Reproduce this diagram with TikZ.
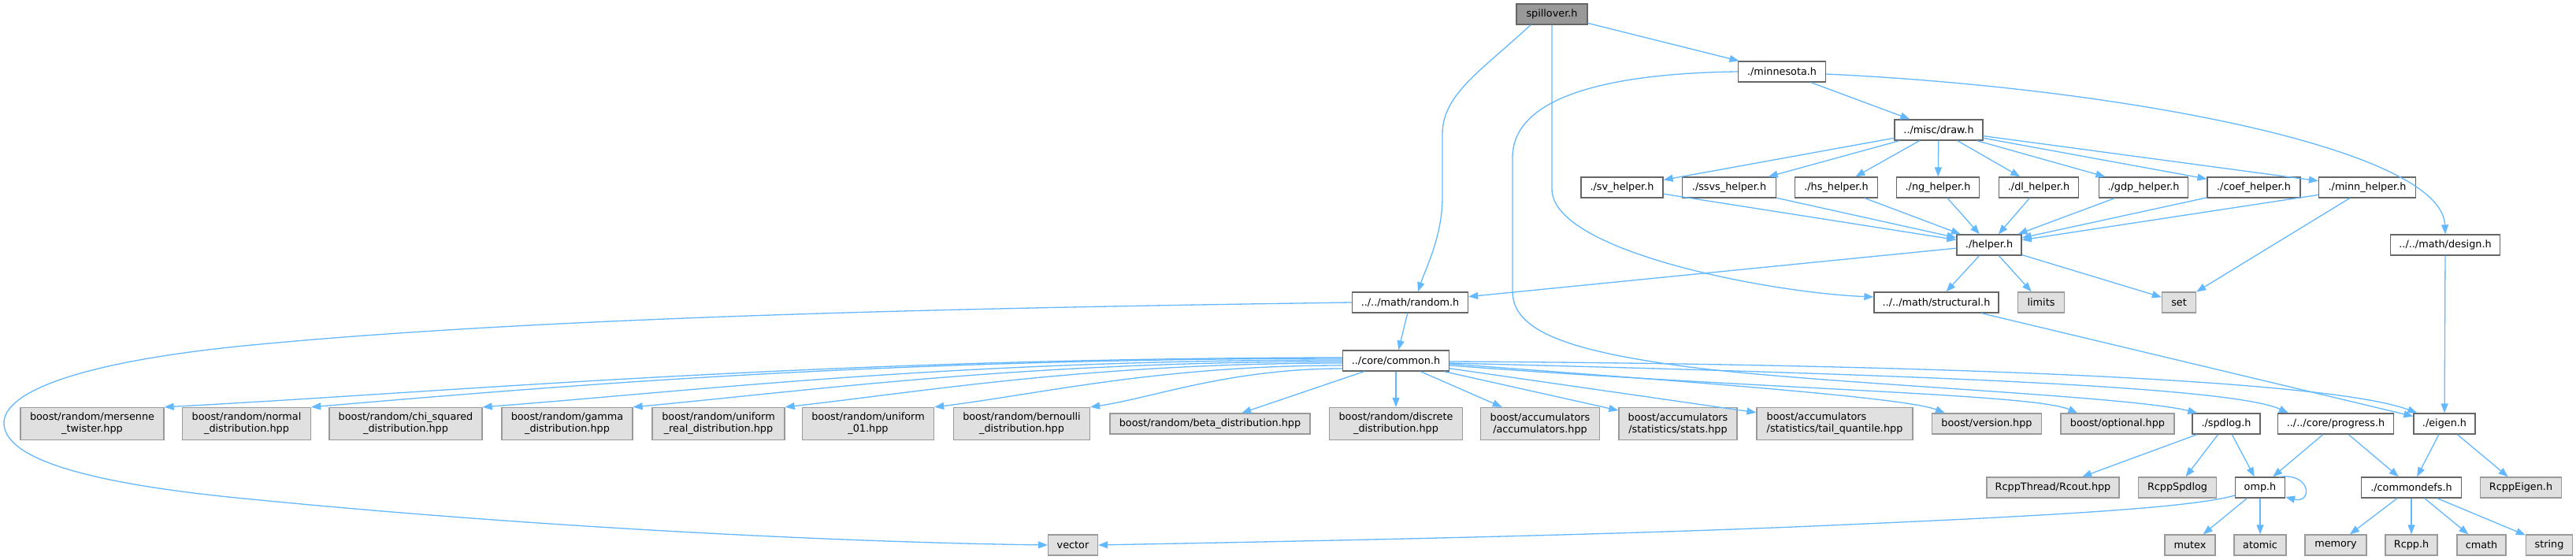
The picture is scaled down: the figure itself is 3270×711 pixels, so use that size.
\documentclass[tikz,border=0pt]{standalone}
\usepackage{fontspec}
\setmainfont{DejaVu Sans}
\usetikzlibrary{arrows.meta}
\definecolor{edgec}{HTML}{63B8FF}
\definecolor{rootfill}{HTML}{999999}
\definecolor{darkb}{HTML}{666666}
\definecolor{lightb}{HTML}{999999}
\definecolor{extfill}{HTML}{E0E0E0}
\begin{document}
\begin{tikzpicture}[x=1pt,y=-1pt,
  base/.style={draw, line width=1.3pt, inner sep=0pt, font=\fontsize{12.8}{15}\selectfont, minimum height=26pt, text=black},
  rootn/.style={base, fill=rootfill, draw=darkb},
  doc/.style={base, fill=white, draw=darkb},
  ext/.style={base, fill=extfill, draw=lightb},
  two/.style={minimum height=41pt, align=center},
  edge/.style={draw=edgec, line width=1.3pt, -{Triangle[length=12pt,width=9pt]}}]
\fill[white] (0,0) rectangle (3270,711);
\useasboundingbox (0,0) rectangle (3270,711);

% nodes
\node[rootn, minimum width=90pt] (nspill) at (1970,18) {spillover.h};
\node[doc, minimum width=111pt] (nminn) at (2262,91) {./minnesota.h};
\node[doc, minimum width=112pt] (ndraw) at (2461,165) {../misc/draw.h};
\node[doc, minimum width=104pt] (nsv) at (2059,238) {./sv\_helper.h};
\node[doc, minimum width=119pt] (nssvs) at (2195,238) {./ssvs\_helper.h};
\node[doc, minimum width=105pt] (nhs) at (2331,238) {./hs\_helper.h};
\node[doc, minimum width=105pt] (nng) at (2460,238) {./ng\_helper.h};
\node[doc, minimum width=101pt] (ndl) at (2588,238) {./dl\_helper.h};
\node[doc, minimum width=113pt] (ngdp) at (2721,238) {./gdp\_helper.h};
\node[doc, minimum width=118pt] (ncoef) at (2861,238) {./coef\_helper.h};
\node[doc, minimum width=123pt] (nminnh) at (3005,238) {./minn\_helper.h};
\node[doc, minimum width=82pt] (nhelper) at (2525,311) {./helper.h};
\node[doc, minimum width=139pt] (ndesign) at (3104,311) {../../math/design.h};
\node[doc, minimum width=147pt] (nrandom) at (1790,384) {../../math/random.h};
\node[doc, minimum width=158pt] (nstruct) at (2458,384) {../../math/structural.h};
\node[ext, minimum width=59pt] (nlimits) at (2591,384) {limits};
\node[ext, minimum width=43pt] (nset) at (2766,384) {set};
\node[doc, minimum width=135pt] (ncommon) at (1772,458) {../core/common.h};

\node[ext, two, minimum width=182pt] (nmers) at (117,538) {boost/random/mersenne\\\_twister.hpp};
\node[ext, two, minimum width=163pt] (nnormal) at (313,538) {boost/random/normal\\\_distribution.hpp};
\node[ext, two, minimum width=194pt] (nchi) at (515,538) {boost/random/chi\_squared\\\_distribution.hpp};
\node[ext, two, minimum width=166pt] (ngamma) at (720,538) {boost/random/gamma\\\_distribution.hpp};
\node[ext, two, minimum width=168pt] (nureal) at (912,538) {boost/random/uniform\\\_real\_distribution.hpp};
\node[ext, two, minimum width=167pt] (nu01) at (1102,538) {boost/random/uniform\\\_01.hpp};
\node[ext, two, minimum width=173pt] (nbern) at (1297,538) {boost/random/bernoulli\\\_distribution.hpp};
\node[ext, minimum width=254pt] (nbeta) at (1536,538) {boost/random/beta\_distribution.hpp};
\node[ext, two, minimum width=169pt] (ndisc) at (1772,538) {boost/random/discrete\\\_distribution.hpp};
\node[ext, two, minimum width=151pt] (naccum) at (1955,538) {boost/accumulators\\/accumulators.hpp};
\node[ext, two, minimum width=150pt] (nstats) at (2130,538) {boost/accumulators\\/statistics/stats.hpp};
\node[ext, two, align=left, minimum width=198pt] (ntail) at (2329,538) {boost/accumulators\\/statistics/tail\_quantile.hpp};
\node[ext, minimum width=139pt] (nversion) at (2522,538) {boost/version.hpp};
\node[ext, minimum width=144pt] (nopt) at (2688,538) {boost/optional.hpp};
\node[doc, minimum width=86pt] (nspdlog) at (2826,538) {./spdlog.h};
\node[doc, minimum width=147pt] (nprog) at (2965,538) {../../core/progress.h};
\node[doc, minimum width=78pt] (neigen) at (3103,538) {./eigen.h};

\node[ext, minimum width=168pt] (nrcout) at (2606,619) {RcppThread/Rcout.hpp};
\node[ext, minimum width=99pt] (nrspd) at (2764,619) {RcppSpdlog};
\node[doc, minimum width=63pt] (nomp) at (2869,619) {omp.h};
\node[doc, minimum width=127pt] (ncdefs) at (3061,619) {./commondefs.h};
\node[ext, minimum width=103pt] (nreig) at (3200,619) {RcppEigen.h};

\node[ext, minimum width=63pt] (nvector) at (1362,692) {vector};
\node[ext, minimum width=64pt] (nmutex) at (2780,692) {mutex};
\node[ext, minimum width=66pt] (natomic) at (2869,692) {atomic};
\node[ext, minimum width=78pt] (nmemory) at (2965,692) {memory};
\node[ext, minimum width=66pt] (nrcpp) at (3061,692) {Rcpp.h};
\node[ext, minimum width=62pt] (ncmath) at (3150,692) {cmath};
\node[ext, minimum width=59pt] (nstring) at (3236,692) {string};

% edges from spillover.h
\draw[edge] (nspill) -- (nminn);
\draw[edge] ([xshift=-27pt]nspill.south) .. controls (1880,90) and (1831,120) .. (1831,170) -- (1831,250) .. controls (1831,300) and (1810,340) .. ([xshift=10pt]nrandom.north);
\draw[edge] (nspill.south) -- (1970,240) .. controls (1970,320) and (2250,372) .. ([yshift=7pt]nstruct.west);

% minnesota.h
\draw[edge] (nminn) -- (ndraw);
\draw[edge] ([yshift=-3pt]nminn.east) .. controls (2700,112) and (3100,190) .. (ndesign.north);
\draw[edge] (nminn.west) .. controls (2050,93) and (1920,120) .. (1920,200) -- (1920,370) .. controls (1920,420) and (1990,445) .. (2137,465) .. controls (2300,487) and (2700,502) .. ([xshift=7pt]nspdlog.north west);

% draw.h fan
\foreach \t in {nsv,nssvs,nhs,nng,ndl,ngdp,ncoef,nminnh} {
  \draw[edge] (ndraw) -- (\t);
  \draw[edge] (\t) -- (nhelper);
}

% helper.h
\draw[edge] (nhelper) -- (nrandom);
\draw[edge] (nhelper) -- (nstruct);
\draw[edge] (nhelper) -- (nlimits);
\draw[edge] (nhelper) -- (nset);
\draw[edge] (nminnh) -- (nset);

\draw[edge] (nrandom) -- (ncommon);
\draw[edge] (ndesign) -- (neigen);
\draw[edge] (nstruct) -- (neigen);

% common.h to the left
\draw[edge] ([yshift=4pt]ncommon.west) .. controls (1031,455) and (582,497) .. (nmers.north east);
\draw[edge] ([yshift=3pt]ncommon.west) .. controls (1115,456) and (722,489) .. (nnormal.north east);
\draw[edge] ([yshift=1pt]ncommon.west) .. controls (1213,457) and (885,496) .. (nchi.north east);
\draw[edge] ([yshift=-1pt]ncommon.west) .. controls (1299,459) and (1028,496) .. (ngamma.north east);
\draw[edge] ([yshift=-3pt]ncommon.west) .. controls (1386,461) and (1173,497) .. (nureal.north east);
\draw[edge] ([yshift=-6pt]ncommon.west) .. controls (1471,464) and (1316,501) .. (nu01.north east);
\draw[edge] ([yshift=-10pt]ncommon.west) .. controls (1561,468) and (1464,505) .. (nbern.north east);

% common.h to the right
\draw[edge] (ncommon) -- (nbeta);
\draw[edge] (ncommon) -- (ndisc);
\draw[edge] (ncommon) -- (naccum);
\draw[edge] (ncommon) -- (nstats);
\draw[edge] (ncommon) -- (ntail);
\draw[edge] ([yshift=-4pt]ncommon.east) .. controls (2150,485) and (2420,505) .. ([xshift=17pt]nversion.north west);
\draw[edge] ([yshift=-6pt]ncommon.east) .. controls (2250,495) and (2580,500) .. ([xshift=22pt]nopt.north west);
\draw[edge] ([yshift=-3pt]ncommon.east) .. controls (2400,475) and (2830,490) .. ([xshift=14pt]nprog.north west);
\draw[edge] ([yshift=-1pt]ncommon.east) .. controls (2400,462) and (2950,480) .. ([xshift=5pt]neigen.north west);

% lower part
\draw[edge] (nspdlog) -- (nrcout);
\draw[edge] (nspdlog) -- (nrspd);
\draw[edge] (nspdlog) -- (nomp);
\draw[edge] (nprog) -- (nomp);
\draw[edge] (nprog) -- (ncdefs);
\draw[edge] (neigen) -- (ncdefs);
\draw[edge] (neigen) -- (nreig);
\draw[edge] (nomp) -- (nmutex);
\draw[edge] (nomp) -- (natomic);
\draw[edge] ([xshift=-8pt]nomp.north east) .. controls (2935,600) and (2935,640) .. ([yshift=-12pt]nomp.east);
\draw[edge] (ncdefs) -- (nmemory);
\draw[edge] (ncdefs) -- (nrcpp);
\draw[edge] (ncdefs) -- (ncmath);
\draw[edge] (ncdefs) -- (nstring);

% to vector
\draw[edge] ([yshift=-10pt]nomp.west) .. controls (2780,645) and (2600,655) .. (2300,668) .. controls (2000,681) and (1600,688) .. (nvector.east);
\draw[edge] (nrandom.west) .. controls (1300,390) and (700,400) .. (300,440) .. controls (90,462) and (5,500) .. (5,537) .. controls (5,580) and (100,612) .. (300,632) .. controls (700,672) and (1100,689) .. (nvector.west);
\end{tikzpicture}
\end{document}
